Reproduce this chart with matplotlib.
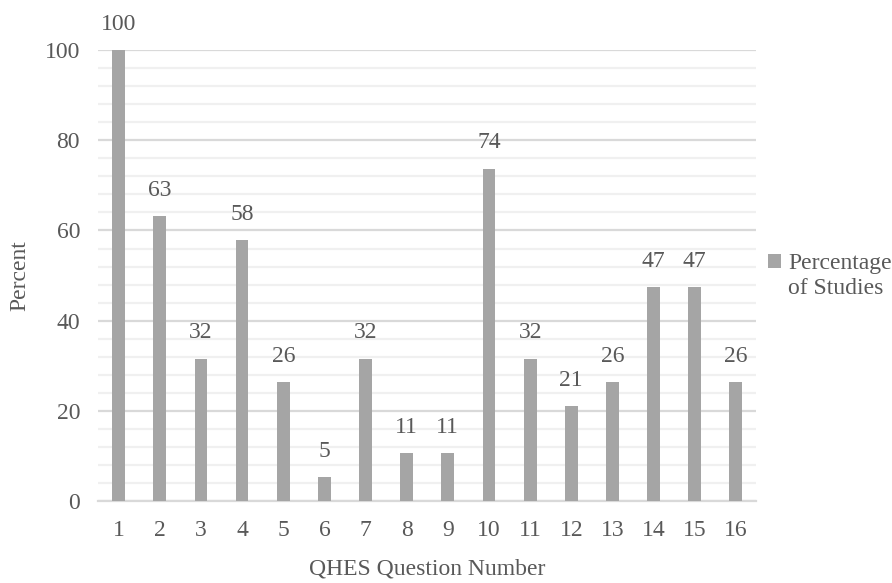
import numpy as np
import matplotlib.pyplot as plt
from matplotlib.patches import Rectangle
from matplotlib.ticker import MultipleLocator

questions = [str(i) for i in range(1, 17)]
percent = [100, 63.2, 31.6, 57.9, 26.3, 5.3, 31.6, 10.53, 10.53, 73.7, 31.6, 21.1, 26.3, 47.4, 47.4, 26.3]

plt.rcParams['font.family'] = ['Liberation Serif', 'DejaVu Serif']
txt = '#595959'
fs = 17

fig = plt.figure(figsize=(8.92, 5.83), dpi=100)
ax = fig.add_axes([0.110, 0.1407, 0.738, 0.7733])

x = np.arange(len(questions))
bars = ax.bar(x, percent, width=0.31, color='#A5A5A5', zorder=3)
ax.bar_label(bars, labels=[f'{v:.0f}' for v in percent], padding=11, fontsize=fs, color=txt)

ax.set_ylim(0, 100)
ax.set_xlim(-0.5, len(questions) - 0.5)
ax.set_xticks(x)
ax.set_xticklabels(questions)
ax.yaxis.set_major_locator(MultipleLocator(20))
ax.yaxis.set_minor_locator(MultipleLocator(4))
ax.grid(axis='y', which='major', color='#D9D9D9', lw=1.6, zorder=0)
ax.grid(axis='y', which='minor', color='#F0F0F0', lw=1.6, zorder=0)
ax.tick_params(axis='both', which='both', length=0, labelsize=fs, labelcolor=txt)
ax.tick_params(axis='x', pad=14)
ax.tick_params(axis='y', pad=13)
for s in ['top', 'right', 'left']:
    ax.spines[s].set_visible(False)
ax.spines['bottom'].set_color('#D9D9D9')
ax.spines['bottom'].set_linewidth(1.6)
ax.set_axisbelow(True)

ax.set_xlabel('QHES Question Number', fontsize=fs, color=txt, labelpad=12)
ax.set_ylabel('Percent', fontsize=fs, color=txt, labelpad=10)

# legend: square next to the first line only, second line below it
blank = Rectangle((0, 0), 1, 1, alpha=0)
fig.legend(handles=[bars, blank], labels=['Percentage', 'of Studies'], loc='center left',
           bbox_to_anchor=(0.861, 0.527), frameon=False, fontsize=fs,
           labelcolor=txt, handlelength=0.55, handleheight=0.55, handletextpad=0.3,
           labelspacing=0.15, borderpad=0, borderaxespad=0)

fig.savefig('out.png', dpi=100)
